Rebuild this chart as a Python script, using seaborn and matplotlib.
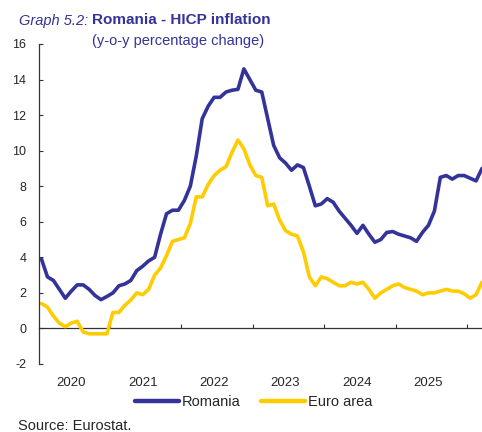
import numpy as np
import pandas as pd
import matplotlib.pyplot as plt
import seaborn as sns

# monthly y-o-y HICP, Jan 2020 onwards
romania = [
    3.9, 2.9, 2.7, 2.2, 1.7, 2.1, 2.45, 2.45, 2.2, 1.85, 1.62, 1.8,
    2.0, 2.4, 2.5, 2.7, 3.25, 3.5, 3.8, 4.0, 5.3, 6.45, 6.65, 6.65,
    7.2, 8.0, 9.7, 11.8, 12.5, 13.0, 13.0, 13.3, 13.4, 13.45, 14.6, 14.0,
    13.4, 13.3, 11.8, 10.3, 9.6, 9.3, 8.9, 9.2, 9.05, 8.0, 6.9, 7.0,
    7.3, 7.1, 6.6, 6.2, 5.8, 5.35, 5.8, 5.3, 4.85, 5.0, 5.4, 5.45,
    5.3, 5.2, 5.1, 4.9, 5.4, 5.8, 6.6, 8.5, 8.6, 8.4, 8.6, 8.6,
    8.45, 8.3, 9.0,
]
euro_area = [
    1.4, 1.2, 0.7, 0.3, 0.1, 0.3, 0.4, -0.2, -0.3, -0.3, -0.3, -0.3,
    0.9, 0.9, 1.3, 1.6, 2.0, 1.9, 2.2, 3.0, 3.4, 4.1, 4.9, 5.0,
    5.1, 5.9, 7.4, 7.4, 8.1, 8.6, 8.9, 9.1, 9.9, 10.6, 10.1, 9.2,
    8.6, 8.5, 6.9, 7.0, 6.1, 5.5, 5.3, 5.2, 4.3, 2.9, 2.4, 2.9,
    2.8, 2.6, 2.4, 2.4, 2.6, 2.5, 2.6, 2.2, 1.7, 2.0, 2.2, 2.4,
    2.5, 2.3, 2.2, 2.1, 1.9, 2.0, 2.0, 2.1, 2.2, 2.1, 2.1, 1.95,
    1.7, 1.9, 2.6,
]
years = ["2020", "2021", "2022", "2023", "2024", "2025"]

navy = "#333399"
yellow = "#FFCC00"

df = pd.DataFrame({
    "month": np.arange(len(romania)),
    "Romania": romania,
    "Euro area": euro_area,
})
long = df.melt(id_vars="month", var_name="series", value_name="value")

sns.set_style("white")
plt.rcParams["font.family"] = ["Liberation Sans", "DejaVu Sans"]
plt.rcParams["axes.unicode_minus"] = False

fig = plt.figure(figsize=(4.82, 4.32), dpi=100)
ax = fig.add_axes([39 / 482, 68 / 432, 443 / 482, 320 / 432])

sns.lineplot(data=long, x="month", y="value", hue="series",
             palette={"Romania": navy, "Euro area": yellow},
             linewidth=2.6, ax=ax)

ax.set_xlim(-0.42, 74.0)
ax.set_ylim(-2, 16)
ax.set_yticks(range(-2, 17, 2))
ax.tick_params(axis="y", direction="in", length=3, width=0.8, pad=9,
               labelsize=9, left=True, color="#333333")
ax.set_xticks([5 + 12 * k for k in range(len(years))], years)
ax.tick_params(axis="x", length=0, pad=9, labelsize=9.5)
ax.set_xlabel("")
ax.set_ylabel("")
for s in ["top", "right", "bottom"]:
    ax.spines[s].set_visible(False)
ax.spines["left"].set_color("#333333")
ax.spines["left"].set_linewidth(0.9)

# horizontal axis line at zero with year separators
zero = ax.secondary_xaxis(2 / 18)
zero.set_xticks([11.5 + 12 * k for k in range(6)])
zero.tick_params(direction="in", length=3, width=0.8, labelbottom=False,
                 labeltop=False, color="#333333")
for s in zero.spines.values():
    s.set_color("#333333")
    s.set_linewidth(0.9)

sns.move_legend(ax, "center", bbox_to_anchor=(253.5 / 482, 1 - 402 / 432),
                bbox_transform=fig.transFigure, ncol=2, title=None,
                frameon=False, fontsize=10.5, handlelength=3.0,
                handletextpad=0.2, columnspacing=1.4)
for line in ax.get_legend().get_lines():
    line.set_linewidth(3.2)

fig.text(19 / 482, 1 - 24.5 / 432, "Graph 5.2:", style="italic",
         fontsize=10.5, color=navy, va="baseline")
fig.text(92 / 482, 1 - 24.5 / 432, "Romania - HICP inflation",
         weight="bold", fontsize=11, color=navy, va="baseline")
fig.text(92 / 482, 1 - 45.5 / 432, "(y-o-y percentage change)",
         fontsize=10.5, color=navy, va="baseline")
fig.text(18 / 482, 1 - 429.5 / 432, "Source: Eurostat.", fontsize=10.5,
         va="baseline")

fig.savefig("out.png", dpi=100)
